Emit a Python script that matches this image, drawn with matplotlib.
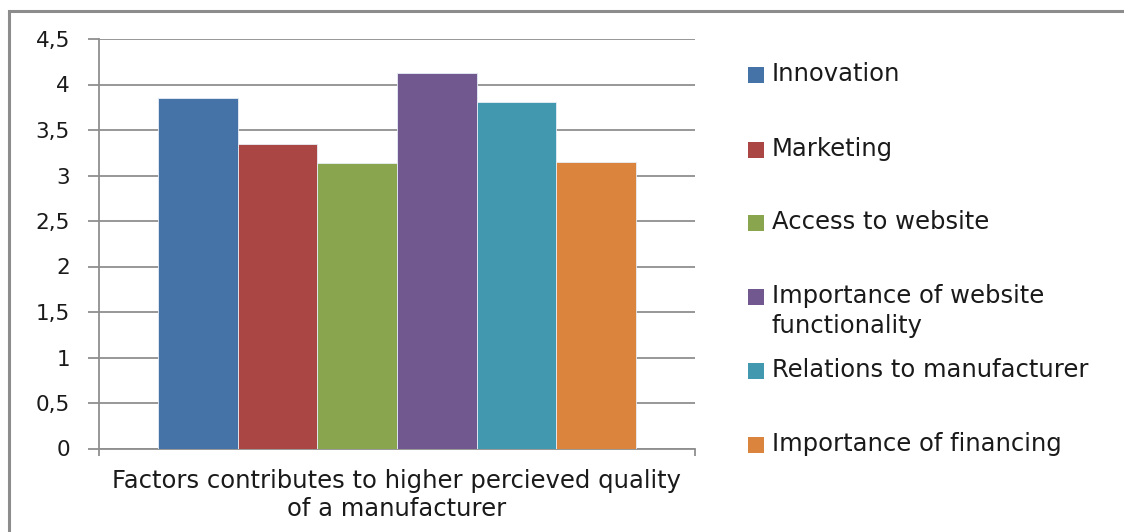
import numpy as np
import matplotlib
matplotlib.use('Agg')
import matplotlib.pyplot as plt
from matplotlib.patches import Rectangle
from matplotlib.ticker import FuncFormatter

plt.rcParams['font.family'] = ['DejaVu Sans']

factors = ['Innovation', 'Marketing', 'Access to website',
           'Importance of website\nfunctionality', 'Relations to manufacturer',
           'Importance of financing']
scores = [3.85, 3.35, 3.14, 4.13, 3.81, 3.15]
colors = ['#4572A7', '#AA4643', '#89A54E', '#71588F', '#4198AF', '#DB843D']
category = 'Factors contributes to higher percieved quality\nof a manufacturer'
y_ticks = [0, 0.5, 1, 1.5, 2, 2.5, 3, 3.5, 4, 4.5]

W, H = 1124, 532
fig = plt.figure(figsize=(W / 100, H / 100), dpi=100)

def fx(px):
    return px / W

def fy(py):
    return 1 - py / H

# chart area frame (only left and top edges fall inside the image)
fig.patches.append(Rectangle((fx(9), fy(560)), fx(1140) - fx(9), fy(11) - fy(560),
                             transform=fig.transFigure, fill=False,
                             edgecolor='#8c8c8c', linewidth=2.2))

ax = fig.add_axes([fx(99), fy(448.5), fx(695) - fx(99), fy(39) - fy(448.5)])

n = len(scores)
width = 0.1337
offsets = (np.arange(n) - (n - 1) / 2) * width
for off, val, col in zip(offsets, scores, colors):
    ax.bar(off, val, width=width, color=col, edgecolor='#e8eef5', linewidth=0.6, zorder=3)

ax.set_xlim(-0.5, 0.5)
ax.set_ylim(0, 4.5)
ax.set_yticks(y_ticks)
ax.yaxis.set_major_formatter(FuncFormatter(lambda v, p: ('%g' % v).replace('.', ',')))
ax.yaxis.grid(True, color='#8f8f8f', linewidth=1.3, zorder=0)
ax.set_axisbelow(True)

for s in ['top', 'right']:
    ax.spines[s].set_visible(False)
for s in ['left', 'bottom']:
    ax.spines[s].set_color('#8f8f8f')
    ax.spines[s].set_linewidth(1.3)

ax.tick_params(axis='y', length=8, width=1.3, color='#8f8f8f', pad=13,
               labelsize=15.5, labelcolor='#1a1a1a')
ax.set_xticks([-0.5, 0.5])
ax.set_xticklabels(['', ''])
ax.tick_params(axis='x', length=5, width=1.3, color='#8f8f8f')

fig.text(fx(397), fy(495), category, ha='center', va='center', fontsize=17.5,
         color='#1a1a1a', linespacing=1.25)

# legend, one entry per factor
legend_y = [75, 150, 223, 297, 371, 445]
for lab, col, py in zip(factors, colors, legend_y):
    fig.patches.append(Rectangle((fx(748), fy(py + 8)), fx(16), fy(0) - fy(16),
                                 transform=fig.transFigure, facecolor=col,
                                 edgecolor='none'))
    fig.text(fx(772), fy(py - 13), lab, ha='left', va='top', fontsize=17.5,
             color='#1a1a1a', linespacing=1.3)

fig.savefig('out.png', dpi=100, facecolor='white')
